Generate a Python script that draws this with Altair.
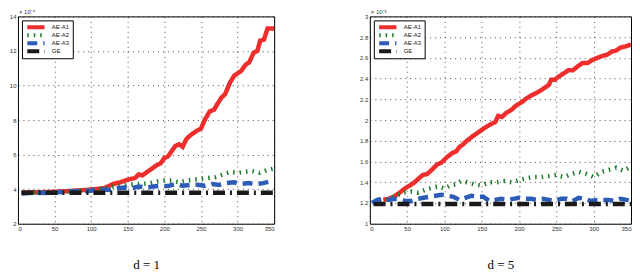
import altair as alt
import pandas as pd

series = ["AE-A1", "AE-A2", "AE-A3", "GE"]
colors = ["#ee2d2d", "#1e7b2a", "#2c5cb8", "#1a1a1a"]
dashes = [[1, 0], [1.5, 5], [10, 6], [12, 5, 2, 5]]

x_ticks = [0, 50, 100, 150, 200, 250, 300, 350]

# ---------- d = 1 (values x 1e-4) ----------
d1_a1_x = [5, 20, 35, 50, 65, 80, 95, 105, 115, 120, 125, 130, 140, 150, 160, 165, 170, 180, 190, 195,
           200, 205, 210, 215, 220, 225, 230, 235, 240, 245, 250, 255, 262, 268, 272, 278, 283, 290, 296,
           300, 305, 311, 316, 322, 327, 331, 336, 341, 350]
d1_a1_y = [3.8, 3.82, 3.83, 3.85, 3.88, 3.92, 3.96, 4.0, 4.05, 4.1, 4.2, 4.3, 4.4, 4.55, 4.65, 4.85, 4.8, 5.1,
           5.4, 5.5, 5.8, 5.9, 6.2, 6.5, 6.6, 6.45, 6.9, 7.1, 7.25, 7.4, 7.5, 8.0, 8.5, 8.6, 8.9, 9.3, 9.5,
           10.2, 10.6, 10.7, 10.85, 11.2, 11.35, 11.9, 12.0, 12.6, 12.65, 13.3, 13.3]
d1_a2_x = [5, 20, 40, 60, 80, 100, 110, 120, 130, 140, 150, 160, 170, 180, 190, 200, 210, 220, 230, 240,
           250, 260, 270, 280, 290, 300, 310, 320, 330, 340, 350]
d1_a2_y = [3.8, 3.8, 3.82, 3.85, 3.9, 3.95, 4.0, 4.05, 4.15, 4.2, 4.25, 4.3, 4.3, 4.35, 4.45, 4.5, 4.5, 4.4,
           4.5, 4.55, 4.6, 4.65, 4.7, 4.85, 5.0, 4.95, 5.0, 5.05, 4.95, 5.1, 5.2]
d1_a3_x = [5, 15, 25, 35, 45, 55, 65, 75, 85, 95, 105, 115, 125, 135, 145, 155, 165, 175, 185, 195, 205,
           215, 225, 235, 245, 255, 265, 275, 285, 295, 305, 315, 325, 335, 345, 350]
d1_a3_y = [3.75, 3.78, 3.8, 3.78, 3.8, 3.82, 3.85, 3.88, 3.9, 3.88, 3.95, 4.0, 3.95, 4.05, 4.1, 4.05, 4.15,
           4.1, 4.15, 4.2, 4.18, 4.3, 4.2, 4.25, 4.25, 4.2, 4.3, 4.25, 4.35, 4.4, 4.3, 4.35, 4.3, 4.35, 4.45, 4.4]
d1_ge_x = [5, 350]
d1_ge_y = [3.8, 3.8]

# ---------- d = 5 (values x 1e-3) ----------
d5_a1_x = [18, 25, 32, 40, 47, 54, 60, 66, 71, 77, 83, 90, 96, 103, 110, 116, 120, 124, 130, 137, 143, 149,
           155, 162, 168, 172, 177, 183, 190, 196, 203, 210, 217, 223, 230, 236, 240, 243, 248, 253, 260,
           266, 272, 279, 285, 292, 298, 305, 312, 318, 324, 330, 336, 343, 350]
d5_a1_y = [1.23, 1.24, 1.26, 1.3, 1.34, 1.37, 1.4, 1.44, 1.47, 1.48, 1.52, 1.57, 1.59, 1.64, 1.68, 1.7, 1.74,
           1.76, 1.8, 1.84, 1.87, 1.9, 1.93, 1.96, 1.98, 2.04, 2.03, 2.07, 2.1, 2.14, 2.17, 2.21, 2.24, 2.26,
           2.29, 2.32, 2.34, 2.39, 2.39, 2.42, 2.45, 2.48, 2.48, 2.52, 2.55, 2.55, 2.58, 2.6, 2.62, 2.63,
           2.66, 2.67, 2.70, 2.71, 2.73]
d5_a2_x = [5, 15, 25, 35, 45, 55, 65, 75, 85, 92, 100, 108, 115, 122, 130, 140, 150, 160, 170, 180, 190,
           200, 210, 220, 230, 240, 250, 260, 270, 280, 290, 300, 310, 320, 330, 340, 350]
d5_a2_y = [1.2, 1.22, 1.24, 1.27, 1.3, 1.31, 1.3, 1.33, 1.35, 1.36, 1.34, 1.37, 1.38, 1.41, 1.4, 1.38, 1.37,
           1.4, 1.4, 1.41, 1.4, 1.42, 1.44, 1.45, 1.45, 1.46, 1.47, 1.45, 1.48, 1.5, 1.48, 1.45, 1.5, 1.52,
           1.54, 1.51, 1.55]
d5_a3_x = [3, 10, 18, 25, 32, 40, 48, 56, 64, 72, 80, 88, 96, 104, 112, 120, 128, 136, 144, 152, 160, 168,
           176, 184, 192, 200, 208, 216, 224, 232, 240, 248, 256, 264, 272, 280, 288, 296, 304, 312, 320,
           328, 336, 344, 350]
d5_a3_y = [1.2, 1.23, 1.24, 1.23, 1.24, 1.23, 1.22, 1.22, 1.24, 1.25, 1.26, 1.27, 1.28, 1.27, 1.26, 1.23,
           1.25, 1.27, 1.26, 1.26, 1.22, 1.23, 1.24, 1.23, 1.24, 1.25, 1.24, 1.24, 1.23, 1.24, 1.23, 1.22,
           1.24, 1.24, 1.22, 1.25, 1.24, 1.22, 1.23, 1.23, 1.23, 1.22, 1.24, 1.23, 1.22]
d5_ge_x = [5, 350]
d5_ge_y = [1.19, 1.19]


def frame(xs, ys):
    rows = []
    for name, xx, yy in zip(series, xs, ys):
        for a, b in zip(xx, yy):
            rows.append({"series": name, "x": a, "y": b})
    return pd.DataFrame(rows)


df1 = frame([d1_a1_x, d1_a2_x, d1_a3_x, d1_ge_x], [d1_a1_y, d1_a2_y, d1_a3_y, d1_ge_y])
df5 = frame([d5_a1_x, d5_a2_x, d5_a3_x, d5_ge_x], [d5_a1_y, d5_a2_y, d5_a3_y, d5_ge_y])

FONT = "Liberation Sans"


def legend():
    return alt.Legend(
        title=None, orient="top-left", offset=4, fillColor="white", strokeColor="black",
        padding=3, labelFontSize=6, labelFont=FONT, labelColor="#222", symbolType="stroke",
        symbolStrokeWidth=4, symbolSize=300, rowPadding=0, labelOffset=5, clipHeight=8,
    )


def panel(df, ydom, yvals, caption, mult, w, h):
    grid_kw = dict(grid=True, gridColor="#222", gridDash=[1, 4], gridWidth=1, gridOpacity=0.8)
    lines = alt.Chart(df).mark_line(strokeWidth=4.5, clip=True).encode(
        x=alt.X("x:Q", scale=alt.Scale(domain=[0, 350], nice=False),
                axis=alt.Axis(values=x_ticks, title=caption, titleFont="Liberation Serif",
                              titleFontSize=13, titleFontWeight="normal", titleColor="black",
                              titlePadding=27, labelFontSize=6, labelFont=FONT, labelColor="#333",
                              labelPadding=2, ticks=False, domain=False, **grid_kw)),
        y=alt.Y("y:Q", scale=alt.Scale(domain=ydom, nice=False),
                axis=alt.Axis(values=yvals, format="~g", title=None, labelFontSize=6, labelFont=FONT,
                              labelColor="#333", labelPadding=2, ticks=False, domain=False, **grid_kw)),
        color=alt.Color("series:N", scale=alt.Scale(domain=series, range=colors), legend=legend()),
        strokeDash=alt.StrokeDash("series:N", scale=alt.Scale(domain=series, range=dashes),
                                  legend=legend()),
    )
    label = alt.Chart(pd.DataFrame({"t": [mult]})).mark_text(
        align="left", baseline="bottom", fontSize=6, font=FONT, color="#333"
    ).encode(x=alt.value(1), y=alt.value(-1), text="t:N")
    return alt.layer(lines, label).properties(width=w, height=h)


left = panel(df1, [2, 14], [2, 4, 6, 8, 10, 12, 14], "d = 1", "× 10⁻⁴", 257, 208)
right = panel(df5, [1, 3], [1, 1.2, 1.4, 1.6, 1.8, 2, 2.2, 2.4, 2.6, 2.8, 3], "d = 5", "× 10⁻³", 262, 208)

chart = alt.hconcat(left, right, spacing=84).resolve_scale(
    color="independent", strokeDash="independent"
).resolve_legend(color="independent", strokeDash="independent").properties(
    padding={"left": 0, "top": 0, "right": 0, "bottom": 0}
).configure_view(stroke="black", strokeWidth=1)

chart.save("out.html", embed_options={"renderer": "svg", "actions": False})
